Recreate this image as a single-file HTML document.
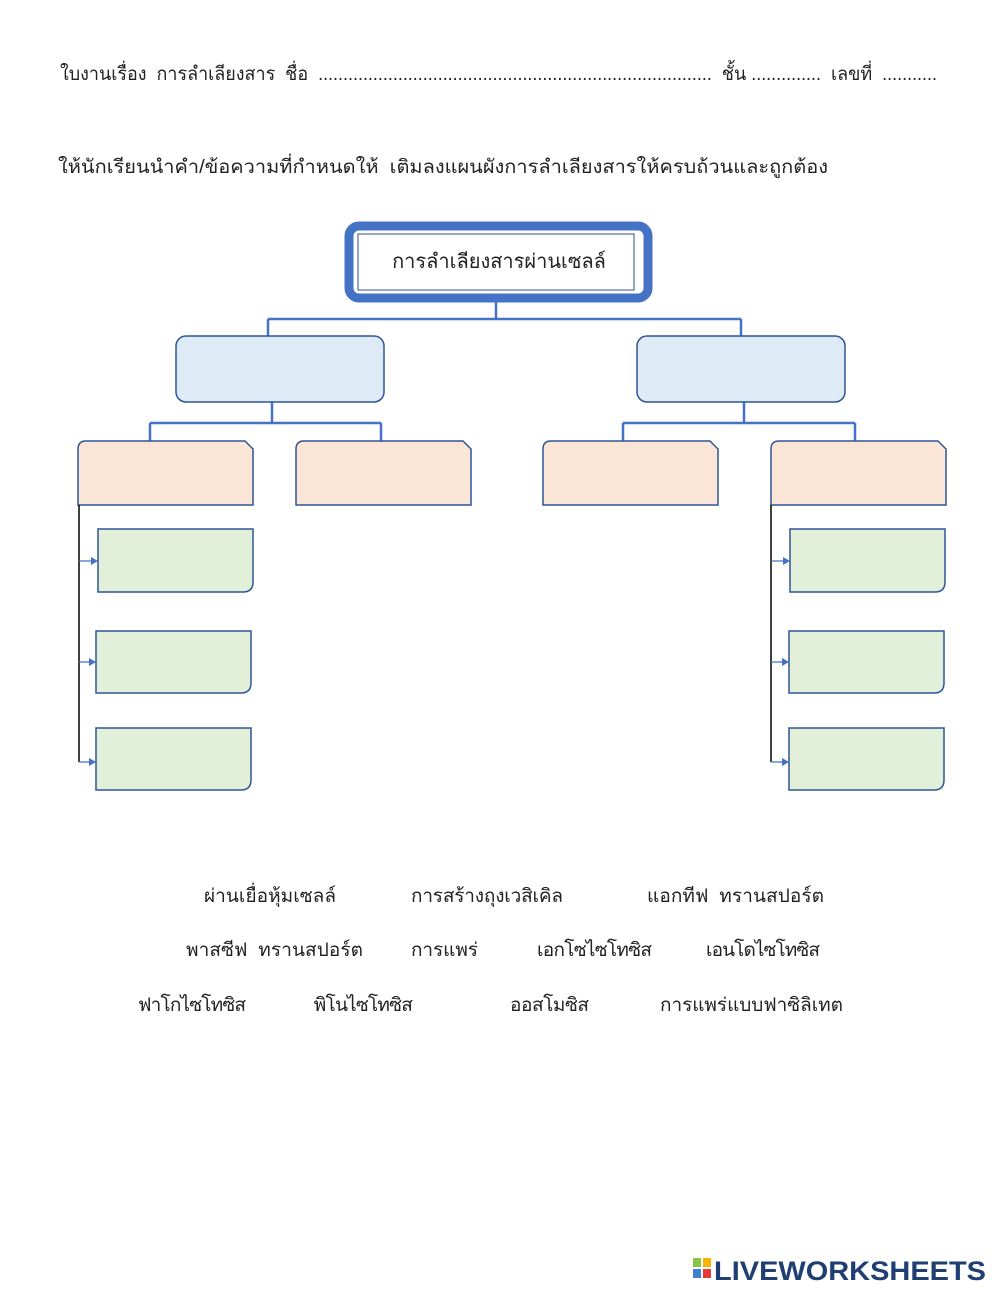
<!DOCTYPE html>
<html><head><meta charset="utf-8"><style>
body{margin:0;background:#fff;width:1000px;height:1294px;overflow:hidden;font-family:"Liberation Sans","Noto Sans CJK SC",sans-serif;}
text{white-space:pre;}
</style></head><body>
<svg width="1000" height="1294" xmlns="http://www.w3.org/2000/svg" font-family="Liberation Sans, Noto Sans CJK SC, sans-serif">
<text x="60" y="80" font-size="19" fill="#222" textLength="877" lengthAdjust="spacingAndGlyphs">ใบงานเรื่อง  การลำเลียงสาร  ชื่อ  ...............................................................................  ชั้น ..............  เลขที่  ...........</text>
<text x="58" y="173" font-size="19" fill="#222" textLength="770" lengthAdjust="spacingAndGlyphs">ให้นักเรียนนำคำ/ข้อความที่กำหนดให้  เติมลงแผนผังการลำเลียงสารให้ครบถ้วนและถูกต้อง</text>
<rect x="349" y="226" width="299" height="72" rx="10" fill="#fff" stroke="#4472C4" stroke-width="9"/>
<rect x="358" y="234" width="276" height="56" fill="#fff" stroke="#2F528F" stroke-width="1"/>
<text x="499" y="268" font-size="20" text-anchor="middle" fill="#222">การลำเลียงสารผ่านเซลล์</text>
<g stroke="#4472C4" stroke-width="2.5" fill="none">
<path d="M496 302V319M268 319H741M268 319V336M741 319V336"/>
<path d="M272 402V423M150 423H381M150 423V441M381 423V441"/>
<path d="M744 402V423M623 423H855M623 423V441M855 423V441"/>
</g>
<g fill="#DEEBF7" stroke="#2F5597" stroke-width="1.5">
<rect x="176" y="336" width="208" height="66" rx="10"/>
<rect x="637" y="336" width="208" height="66" rx="10"/>
</g>
<g fill="#FBE5D6" stroke="#2F5597" stroke-width="1.5">
<path d="M78 505V449Q78 441 86 441H245L253 449V505Z"/>
<path d="M296 505V449Q296 441 304 441H463L471 449V505Z"/>
<path d="M543 505V449Q543 441 551 441H710L718 449V505Z"/>
<path d="M771 505V449Q771 441 779 441H938L946 449V505Z"/>
</g>
<g stroke="#000" stroke-width="1.5"><path d="M79 505V762M771 505V762"/></g>
<g stroke="#4472C4" stroke-width="1.2" fill="#4472C4">
<path d="M79 561H92M79 662H90M79 762H90M771 561H784M771 662H783M771 762H783"/>
<path d="M98 561l-7-4v8zM96 662l-7-4v8zM96 762l-7-4v8zM790 561l-7-4v8zM789 662l-7-4v8zM789 762l-7-4v8z" stroke="none"/>
</g>
<g fill="#E2F0D9" stroke="#2F5597" stroke-width="1.5">
<path d="M98 529H253V582Q253 592 243 592H98Z"/>
<path d="M96 631H251V683Q251 693 241 693H96Z"/>
<path d="M96 728H251V780Q251 790 241 790H96Z"/>
<path d="M790 529H945V582Q945 592 935 592H790Z"/>
<path d="M789 631H944V683Q944 693 934 693H789Z"/>
<path d="M789 728H944V780Q944 790 934 790H789Z"/>
</g>
<g font-size="19" fill="#222" lengthAdjust="spacingAndGlyphs">
<text x="204" y="902" textLength="132">ผ่านเยื่อหุ้มเซลล์</text>
<text x="411" y="902" textLength="152">การสร้างถุงเวสิเคิล</text>
<text x="647" y="902" textLength="177">แอกทีฟ  ทรานสปอร์ต</text>
<text x="186" y="956" textLength="177">พาสซีฟ  ทรานสปอร์ต</text>
<text x="411" y="956" textLength="67">การแพร่</text>
<text x="537" y="956" textLength="115">เอกโซไซโทซิส</text>
<text x="706" y="956" textLength="114">เอนโดไซโทซิส</text>
<text x="138" y="1011" textLength="108">ฟาโกไซโทซิส</text>
<text x="313" y="1011" textLength="99">พิโนไซโทซิส</text>
<text x="510" y="1011" textLength="79">ออสโมซิส</text>
<text x="660" y="1011" textLength="183">การแพร่แบบฟาซิลิเทต</text>
</g>
<rect x="693" y="1258" width="8" height="9" fill="#8BC34A"/><rect x="703" y="1258" width="8" height="9" fill="#F5B400"/>
<rect x="693" y="1269" width="8" height="9" fill="#3F7FD0"/><rect x="703" y="1269" width="8" height="9" fill="#E53935"/>
<text x="714" y="1280" font-size="27" font-weight="bold" fill="#1F3F73" textLength="272" lengthAdjust="spacingAndGlyphs">LIVEWORKSHEETS</text>
</svg>
</body></html>
